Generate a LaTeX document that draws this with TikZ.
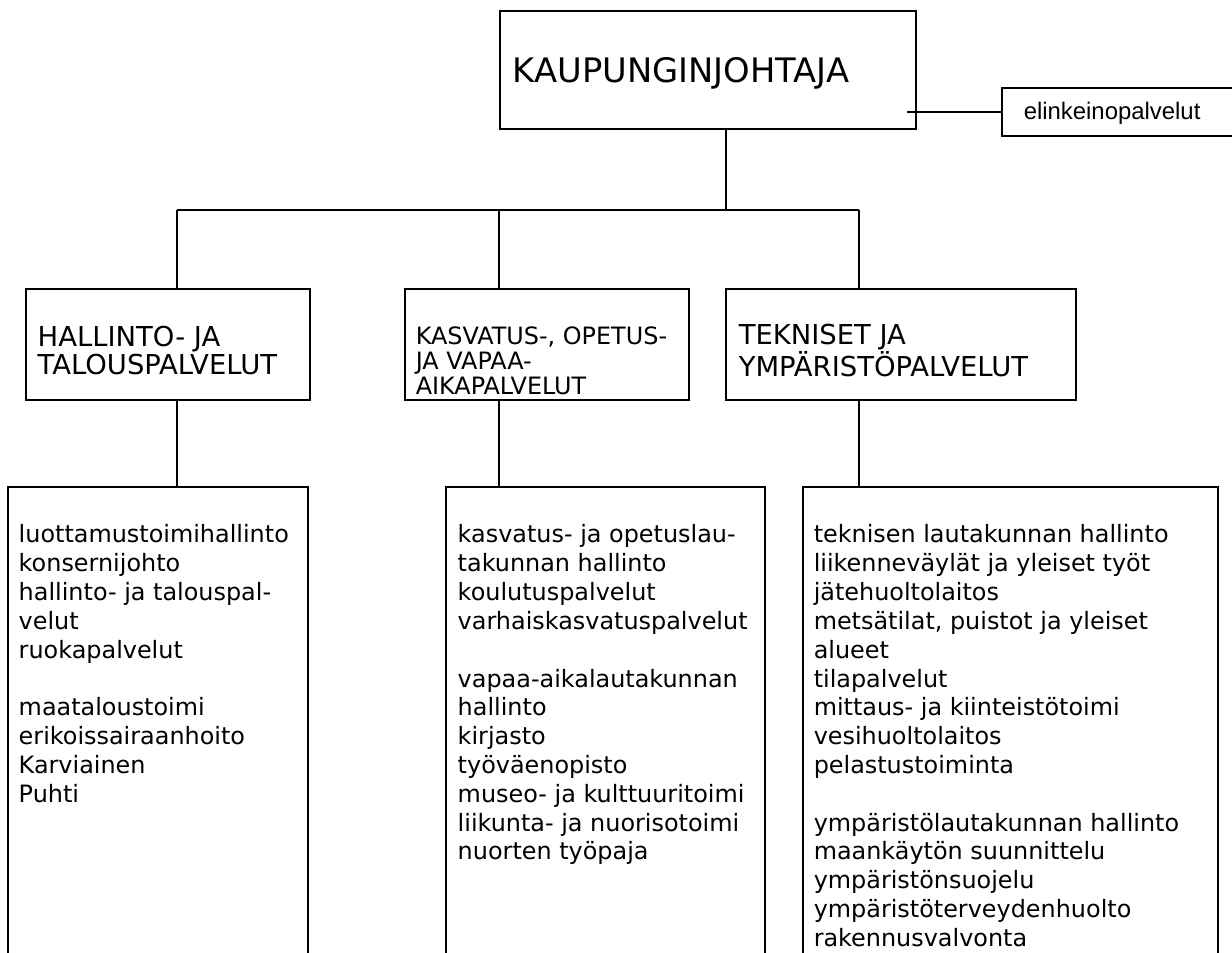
\documentclass[tikz,border=0pt]{standalone}
\usepackage{fontspec}
\setmainfont{DejaVu Sans}
\newfontfamily\arialfont{Liberation Sans}
\begin{document}
\begin{tikzpicture}
    [
  line width=.85pt,
  unitbox/.style={
    draw,
    inner sep=0pt,
    outer sep=0pt,
    anchor=north west
  },
  title/.style={
    font=\fontsize{19.2}{22}\selectfont,
    inner sep=0pt,
    anchor=base west
  },
  headtext/.style={
    font=\fontsize{15.6}{16.4}\selectfont,
    align=left,
    inner sep=0pt,
    anchor=north west
  },
  smallhead/.style={
    font=\fontsize{13.6}{14.2}\selectfont,
    align=left,
    inner sep=0pt,
    anchor=north west
  },
  listtext/.style={
    font=\fontsize{13.6}{16.4}\selectfont,
    align=left,
    inner sep=0pt,
    anchor=north west
  }
  ]
  \useasboundingbox (0,0) rectangle (24.64,-19.06);
  \clip (0,0) rectangle (24.64,-19.06);

  % top level
  \node (johtaja) at (10.00,-0.22) [unitbox, minimum width=8.32cm, minimum height=2.36cm] {};
  \node at ([shift={(0.24,-1.44)}]johtaja.north west) [title] {KAUPUNGINJOHTAJA};
  \node (elinkeino) at (20.04,-1.76) [unitbox, line width=.6pt, minimum width=4.9cm, minimum height=0.96cm] {};
  \node at ([shift={(0.42,-0.64)}]elinkeino.north west) [title, font=\arialfont\fontsize{13.6}{16}\selectfont] {elinkeinopalvelut};
  \coordinate (stub) at ([xshift=-0.18cm]johtaja.east |- elinkeino.west);
  \draw [line width=.6pt] (stub) -- (elinkeino.west);

  % sectors
  \node (hallinto) at (0.52,-5.78) [unitbox, minimum width=5.68cm, minimum height=2.22cm] {};
  \node (kasvatus) at (8.10,-5.78) [unitbox, minimum width=5.68cm, minimum height=2.22cm] {};
  \node (tekniset) at (14.52,-5.78) [unitbox, minimum width=7.00cm, minimum height=2.22cm] {};
  \node at ([shift={(0.22,-0.72)}]hallinto.north west) [headtext] {HALLINTO- JA\\TALOUSPALVELUT};
  \node at ([shift={(0.20,-0.74)}]kasvatus.north west) [smallhead] {KASVATUS-, OPETUS-\\JA VAPAA-\\AIKAPALVELUT};
  \node at ([shift={(0.24,-0.68)}]tekniset.north west) [headtext] {TEKNISET JA\\YMPÄRISTÖPALVELUT};

  % services, open at the bottom
  \node (hallpalv) at (0.16,-9.74) [unitbox, minimum width=6.00cm, minimum height=10cm] {};
  \node (kasvpalv) at (8.92,-9.74) [unitbox, minimum width=6.38cm, minimum height=10cm] {};
  \node (teknpalv) at (16.06,-9.74) [unitbox, minimum width=8.30cm, minimum height=10cm] {};
  \node at ([shift={(0.20,-0.74)}]hallpalv.north west) [listtext] {luottamustoimihallinto\\konsernijohto\\hallinto- ja talouspal-\\velut\\ruokapalvelut\\[\baselineskip]maataloustoimi\\erikoissairaanhoito\\Karviainen\\Puhti};
  \node at ([shift={(0.22,-0.74)}]kasvpalv.north west) [listtext] {kasvatus- ja opetuslau-\\takunnan hallinto\\koulutuspalvelut\\varhaiskasvatuspalvelut\\[\baselineskip]vapaa-aikalautakunnan\\hallinto\\kirjasto\\työväenopisto\\museo- ja kulttuuritoimi\\liikunta- ja nuorisotoimi\\nuorten työpaja};
  \node at ([shift={(0.20,-0.74)}]teknpalv.north west) [listtext] {teknisen lautakunnan hallinto\\liikenneväylät ja yleiset työt\\jätehuoltolaitos\\metsätilat, puistot ja yleiset\\alueet\\tilapalvelut\\mittaus- ja kiinteistötoimi\\vesihuoltolaitos\\pelastustoiminta\\[\baselineskip]ympäristölautakunnan hallinto\\maankäytön suunnittelu\\ympäristönsuojelu\\ympäristöterveydenhuolto\\rakennusvalvonta};

  % connectors
  \coordinate (trunk) at (14.52,-4.20);
  \coordinate (b1) at (3.54,-4.20);
  \coordinate (b2) at (9.98,-4.20);
  \coordinate (b3) at (17.18,-4.20);
  \draw (johtaja.south -| trunk) -- (trunk);
  \draw (b1) -- (b3);
  \draw (b1) -- (b1 |- hallinto.north);
  \draw (b2) -- (b2 |- kasvatus.north);
  \draw (b3) -- (b3 |- tekniset.north);
  \draw (hallinto.south -| b1) -- (hallpalv.north -| b1);
  \draw (kasvatus.south -| b2) -- (kasvpalv.north -| b2);
  \draw (tekniset.south -| b3) -- (teknpalv.north -| b3);
\end{tikzpicture}
\end{document}
